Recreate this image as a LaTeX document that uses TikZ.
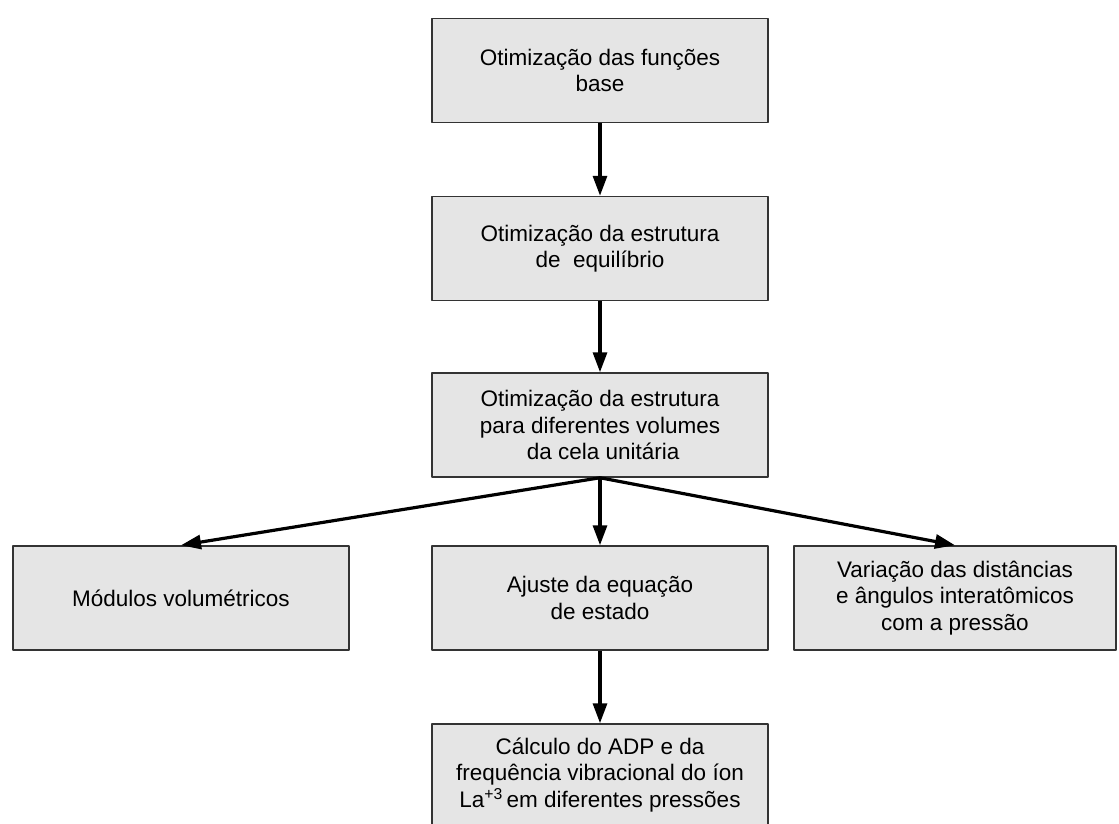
\documentclass[tikz,border=0pt]{standalone}
\usepackage{fontspec}
\setmainfont{Liberation Sans}
\usetikzlibrary{arrows.meta}
\definecolor{boxfill}{RGB}{229,229,229}
\definecolor{boxedge}{RGB}{51,51,51}
\begin{document}
\begin{tikzpicture}[yscale=-1,x=1pt,y=1pt,every path/.style={join=round},
    stage/.style={shape=rectangle,draw=boxedge,fill=boxfill,line width=1.5pt,minimum width=336pt,minimum height=104pt,inner sep=0pt,align=center,font=\fontsize{22.5}{26.5}\selectfont},
    flow/.style={line width=3.2pt,-{Triangle[length=20pt,width=14pt]}}]
    \useasboundingbox (0,0) rectangle (1119,824);
    \node[stage] (base) at (600,70.5) {Otimização das funções\\base};
    \node[stage] (equil) at (600,248.5) {Otimização da estrutura\\de\ \ equilíbrio};
    \node[stage] (vols) at (600,425) {Otimização da estrutura\\para diferentes volumes\\\ da cela unitária};
    \node[stage] (modulos) at (181,598) {Módulos volumétricos};
    \node[stage] (eqest) at (600,598) {Ajuste da equação\\de estado};
    \node[stage,minimum width=322pt] (dist) at (955,598) {Variação das distâncias\\e ângulos interatômicos\\com a pressão};
    \node[stage,minimum height=102pt] (adp) at (600,775) {Cálculo do ADP e da\\frequência vibracional do íon\\La\textsuperscript{+3}\,em diferentes pressões};
    % connectors
    \draw[flow] (base.south) -- (equil.north);
    \draw[flow] (equil.south) -- (vols.north);
    \draw[flow] (vols.south) -- (modulos.north);
    \draw[flow] (vols.south) -- (eqest.north);
    \draw[flow] (vols.south) -- (dist.north);
    \draw[flow] (eqest.south) -- (adp.north);
  \end{tikzpicture}
\end{document}
